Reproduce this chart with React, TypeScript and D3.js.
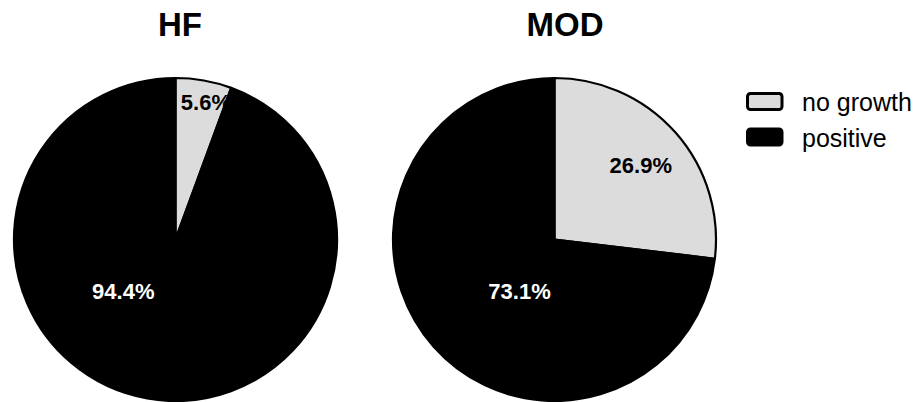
import React from "react";
import * as d3 from "d3";

const groups = ["HF", "MOD"];
const categories = ["no growth", "positive"];
const hfValues = [5.6, 94.4];
const modValues = [26.9, 73.1];
const seriesValues = [hfValues, modValues];

const W = 921;
const H = 402;
const R = 161.5;
const centersX = [175.5, 554.5];
const titleX = [180, 565];
const cy = 239.5;
const colors = ["#dcdcdc", "#000000"];
const labelColors = ["#000000", "#ffffff"];
// label placement (angle in degrees clockwise from top, distance as fraction of R), per group/slice
const labelAngles = [
  [12.5, 225.3],
  [49.3, 214.2],
];
const labelDist = [
  [0.87, 0.455],
  [0.705, 0.385],
];

export default function App() {
  const pie = d3.pie<number>().sort(null).value((d) => d);
  const arc = d3.arc<d3.PieArcDatum<number>>().innerRadius(0).outerRadius(R);
  const font = "'Liberation Sans', Arial, Helvetica, sans-serif";

  const labelPos = (i: number, gi: number) => {
    const ang = (labelAngles[gi][i] * Math.PI) / 180;
    const dist = labelDist[gi][i] * R;
    return [Math.sin(ang) * dist, -Math.cos(ang) * dist];
  };

  return (
    <svg width={W} height={H} style={{ display: "block", position: "absolute", left: 0, top: 0 }}>
      <rect width={W} height={H} fill="#fff" />
      {groups.map((g, gi) => (
        <text
          key={"t" + g}
          x={titleX[gi]}
          y={36}
          textAnchor="middle"
          fontFamily={font}
          fontWeight="bold"
          fontSize={33}
          fill="#000"
        >
          {g}
        </text>
      ))}
      {groups.map((g, gi) => {
        const arcs = pie(seriesValues[gi]);
        return (
          <g key={g} transform={`translate(${centersX[gi]},${cy})`}>
            {arcs.map((a, i) => (
              <path
                key={i}
                d={arc(a) || ""}
                fill={colors[i]}
                stroke="#000"
                strokeWidth={2.2}
                strokeLinejoin="round"
              />
            ))}
            {arcs.map((a, i) => {
              const [lx, ly] = labelPos(i, gi);
              return (
                <text
                  key={"l" + i}
                  x={lx}
                  y={ly}
                  dy="0.36em"
                  textAnchor="middle"
                  fontFamily={font}
                  fontWeight="bold"
                  fontSize={22}
                  fill={labelColors[i]}
                >
                  {d3.format(".1f")(a.data)}%
                </text>
              );
            })}
          </g>
        );
      })}
      {categories.map((c, i) => (
        <g key={c} transform={`translate(747.5,${93.5 + i * 35.5})`}>
          <rect
            x={0}
            y={0}
            width={34.5}
            height={16}
            rx={3}
            fill={colors[i]}
            stroke="#000"
            strokeWidth={3}
          />
          <text
            x={54.5}
            y={17.5}
            fontFamily={font}
            fontSize={25}
            fill="#000"
          >
            {c}
          </text>
        </g>
      ))}
    </svg>
  );
}
